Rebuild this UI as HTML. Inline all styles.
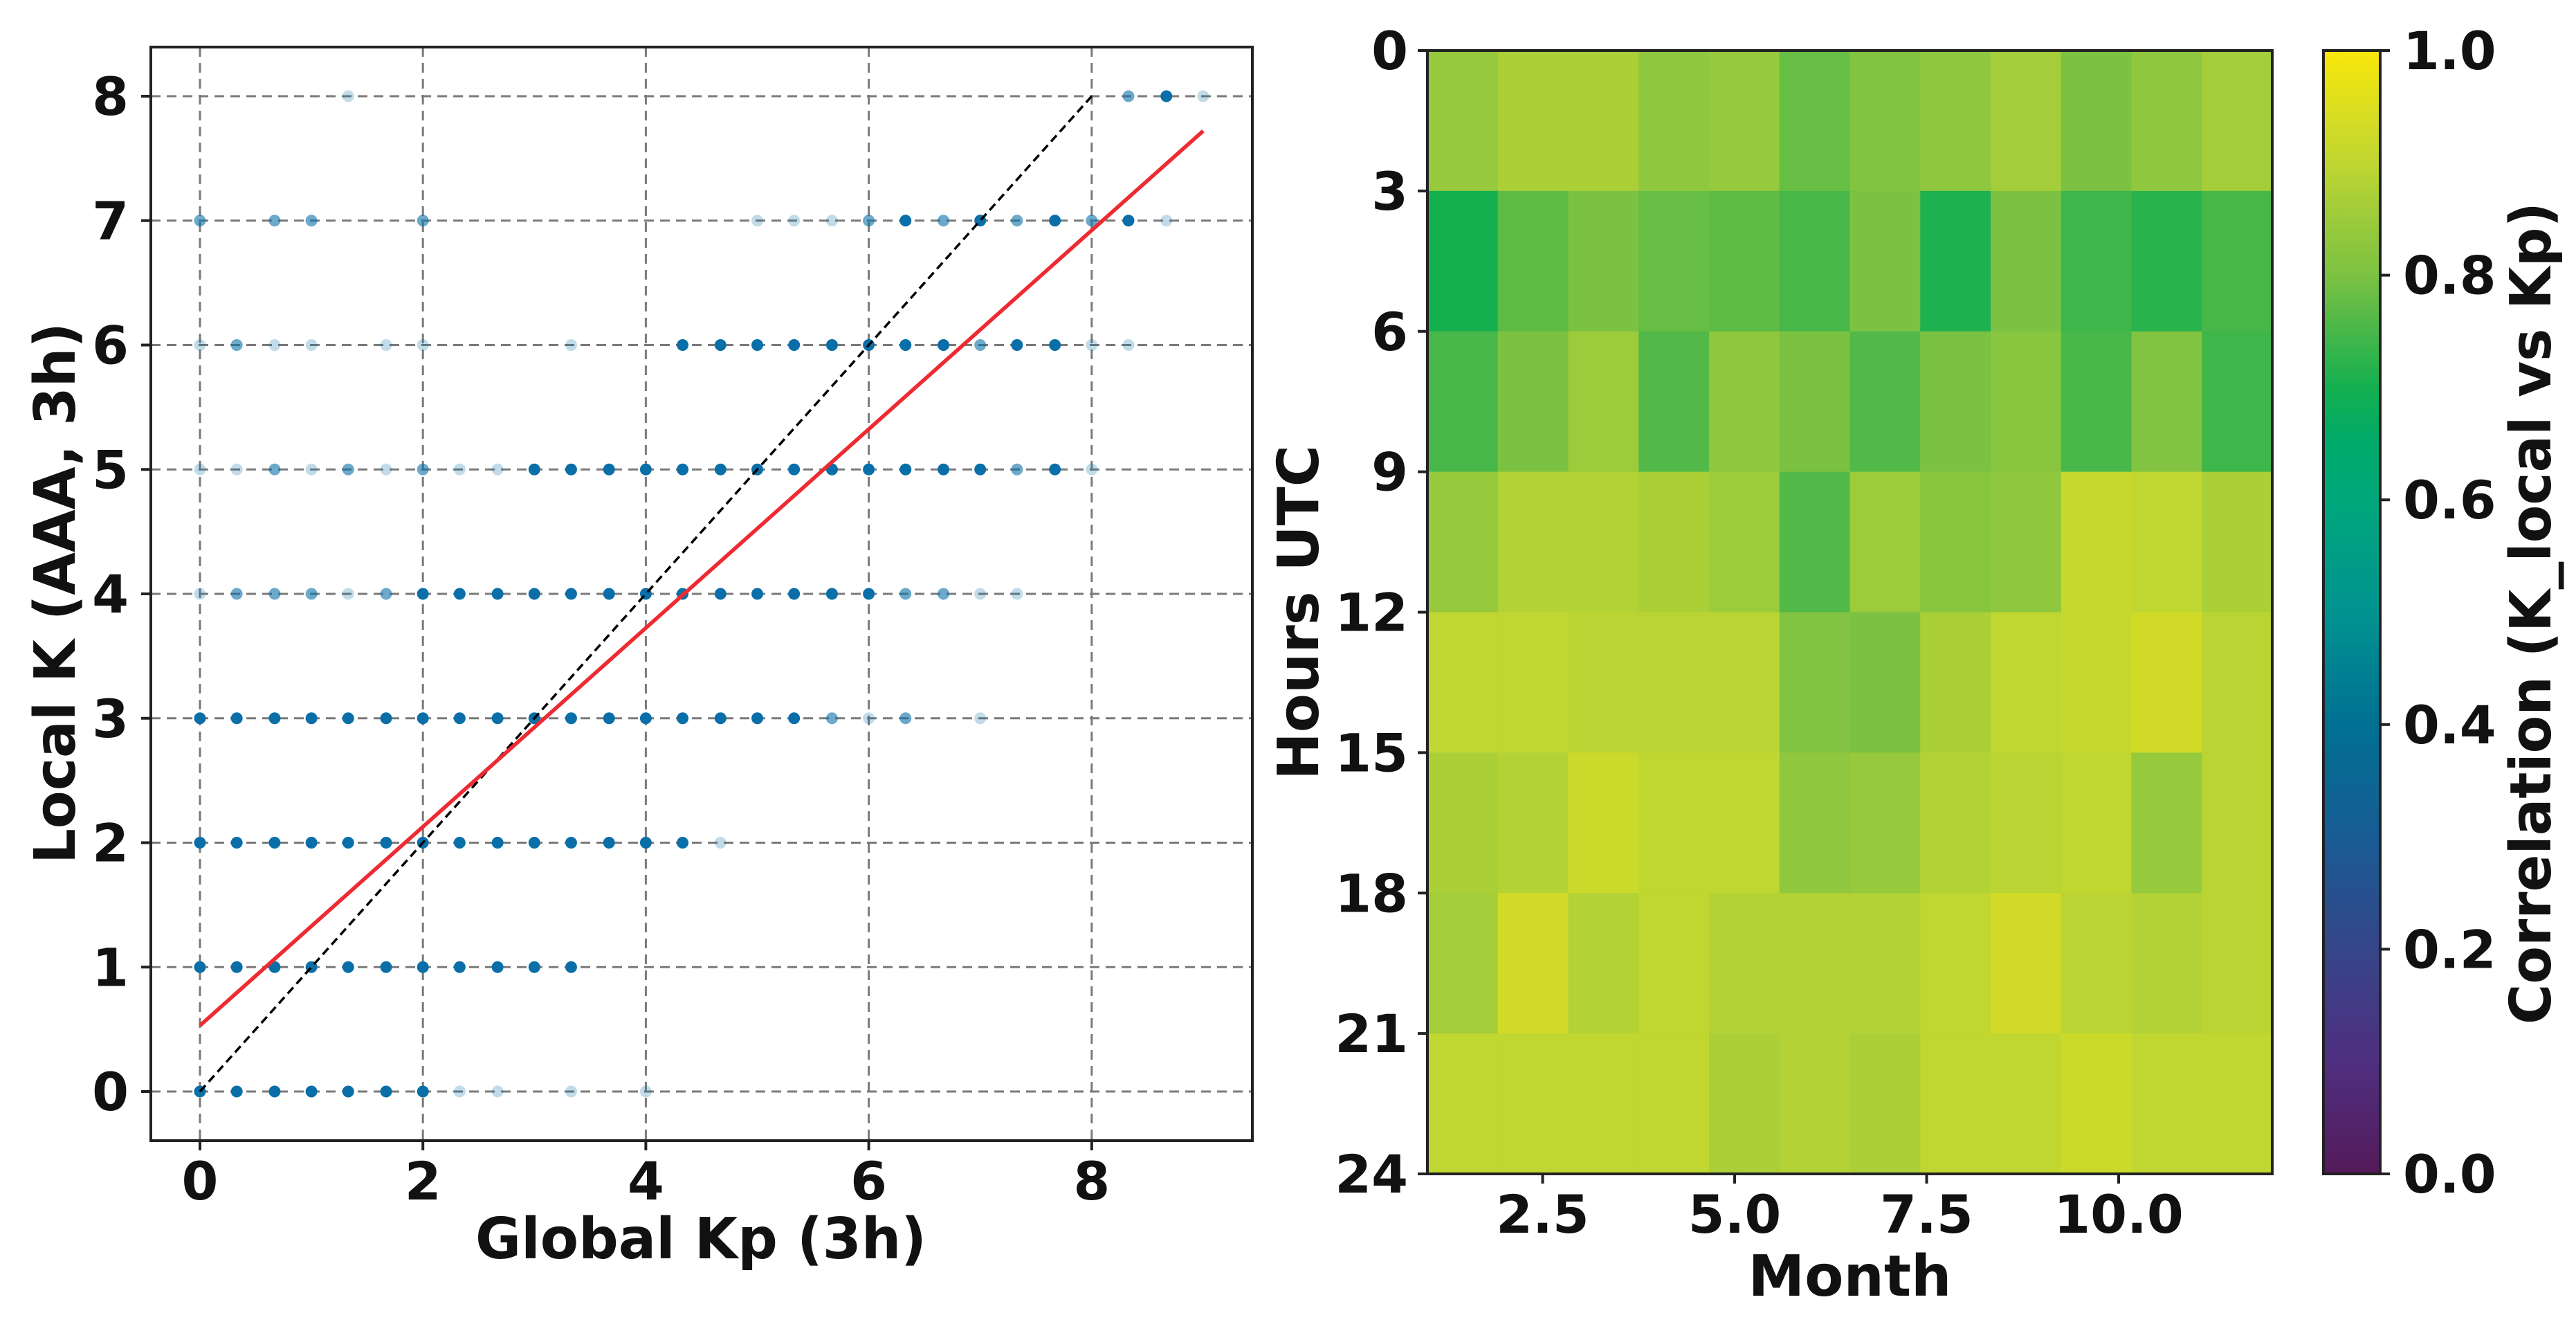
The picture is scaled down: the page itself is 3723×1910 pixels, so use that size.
<!DOCTYPE html>
<html><head><meta charset="utf-8"><style>
body{margin:0;background:#fff;}
svg{display:block;font-family:"DejaVu Sans","Liberation Sans",sans-serif;font-weight:bold;}
</style></head><body>
<svg id="fig" width="3723" height="1910" viewBox="0 0 3723 1910" xmlns="http://www.w3.org/2000/svg">
<g id="left"></g>
<g id="right"></g>
</svg>
<script>
// ---- scatter data ----
const kpValues = [0,0.33,0.67,1,1.33,1.67,2,2.33,2.67,3,3.33,3.67,4,4.33,4.67,5,5.33,5.67,6,6.33,6.67,7,7.33,7.67,8,8.33,8.67,9];
// per point: [Kp, localK, density (1 dark, 2 mid, 3 light)]
const scatterPoints = [
[1.33,8,3],[8.33,8,2],[8.67,8,1],[9,8,3],
[0,7,2],[0.67,7,2],[1,7,2],[2,7,2],[5,7,3],[5.33,7,3],[5.67,7,3],[6,7,2],[6.33,7,1],[6.67,7,2],[7,7,1],[7.33,7,2],[7.67,7,1],[8,7,2],[8.33,7,1],[8.67,7,3],
[0,6,3],[0.33,6,2],[0.67,6,3],[1,6,3],[1.67,6,3],[2,6,3],[3.33,6,3],[4.33,6,1],[4.67,6,1],[5,6,1],[5.33,6,1],[5.67,6,1],[6,6,1],[6.33,6,1],[6.67,6,1],[7,6,2],[7.33,6,1],[7.67,6,1],[8,6,3],[8.33,6,3],
[0,5,3],[0.33,5,3],[0.67,5,2],[1,5,3],[1.33,5,2],[1.67,5,3],[2,5,2],[2.33,5,3],[2.67,5,3],[3,5,1],[3.33,5,1],[3.67,5,1],[4,5,1],[4.33,5,1],[4.67,5,1],[5,5,1],[5.33,5,1],[5.67,5,1],[6,5,1],[6.33,5,1],[6.67,5,1],[7,5,1],[7.33,5,2],[7.67,5,1],[8,5,3],
[0,4,3],[0.33,4,2],[0.67,4,2],[1,4,2],[1.33,4,3],[1.67,4,2],[2,4,1],[2.33,4,1],[2.67,4,1],[3,4,1],[3.33,4,1],[3.67,4,1],[4,4,1],[4.33,4,1],[4.67,4,1],[5,4,1],[5.33,4,1],[5.67,4,1],[6,4,1],[6.33,4,2],[6.67,4,2],[7,4,3],[7.33,4,3],
[0,3,1],[0.33,3,1],[0.67,3,1],[1,3,1],[1.33,3,1],[1.67,3,1],[2,3,1],[2.33,3,1],[2.67,3,1],[3,3,1],[3.33,3,1],[3.67,3,1],[4,3,1],[4.33,3,1],[4.67,3,1],[5,3,1],[5.33,3,1],[5.67,3,2],[6,3,3],[6.33,3,2],[7,3,3],
[0,2,1],[0.33,2,1],[0.67,2,1],[1,2,1],[1.33,2,1],[1.67,2,1],[2,2,1],[2.33,2,1],[2.67,2,1],[3,2,1],[3.33,2,1],[3.67,2,1],[4,2,1],[4.33,2,1],[4.67,2,3],
[0,1,1],[0.33,1,1],[0.67,1,1],[1,1,1],[1.33,1,1],[1.67,1,1],[2,1,1],[2.33,1,1],[2.67,1,1],[3,1,1],[3.33,1,1],
[0,0,1],[0.33,0,1],[0.67,0,1],[1,0,1],[1.33,0,1],[1.67,0,1],[2,0,1],[2.33,0,3],[2.67,0,3],[3.33,0,3],[4,0,3]
];
const xTicksLeft = [0,2,4,6,8];
const yTicksLeft = [0,1,2,3,4,5,6,7,8];
const fitIntercept = 0.53;
const fitSlope = 0.799;
const fitRange = [0,9];
const identityRange = [0,8];

// ---- heatmap data ----
const monthsExtent = [1,12];
const hourBins = [0,3,6,9,12,15,18,21,24];
const corrValues = [
[0.84,0.87,0.87,0.83,0.84,0.78,0.81,0.83,0.86,0.80,0.83,0.86],
[0.70,0.77,0.80,0.78,0.77,0.75,0.80,0.71,0.80,0.74,0.72,0.75],
[0.75,0.80,0.85,0.76,0.83,0.80,0.76,0.80,0.82,0.75,0.81,0.74],
[0.84,0.88,0.88,0.87,0.85,0.76,0.85,0.82,0.83,0.91,0.90,0.87],
[0.90,0.90,0.89,0.89,0.89,0.81,0.80,0.87,0.90,0.91,0.93,0.89],
[0.87,0.88,0.92,0.90,0.90,0.83,0.84,0.88,0.89,0.90,0.84,0.89],
[0.86,0.93,0.88,0.90,0.88,0.88,0.88,0.90,0.93,0.89,0.88,0.89],
[0.90,0.90,0.90,0.90,0.87,0.88,0.87,0.90,0.90,0.92,0.90,0.90]
];
const monthTicks = [2.5,5.0,7.5,10.0];
const cbarTicks = [0.0,0.2,0.4,0.6,0.8,1.0];

const NS="http://www.w3.org/2000/svg";
function mk(tag,attrs,parent){const e=document.createElementNS(NS,tag);for(const k in attrs)e.setAttribute(k,attrs[k]);parent.appendChild(e);return e;}

// ---------- LEFT ----------
const L=document.getElementById('left');
const lx0=218,lx1=1810,ly0=68,ly1=1648;
const sx=v=>289+v*161.1, sy=v=>1577-v*179.75;
xTicksLeft.forEach(v=>{
 const g=mk('line',{x1:sx(v),x2:sx(v),y1:ly0,y2:ly1,stroke:'#7a7a7a','stroke-width':3,'stroke-dasharray':'14 9'},L);
 
 
 const t=mk('line',{x1:sx(v),x2:sx(v),y1:ly1,y2:ly1+14,stroke:'#222','stroke-width':4},L);
 
 
 const lb=mk('text',{x:sx(v),y:1733,'font-size':76,'text-anchor':'middle',fill:'#111'},L);lb.textContent=v;
 
 
});
yTicksLeft.forEach(v=>{
 const g=mk('line',{x1:lx0,x2:lx1,y1:sy(v),y2:sy(v),stroke:'#7a7a7a','stroke-width':3,'stroke-dasharray':'14 9'},L);
 
 
 const t=mk('line',{x1:lx0-14,x2:lx0,y1:sy(v),y2:sy(v),stroke:'#222','stroke-width':4},L);
 
 
 const lb=mk('text',{x:186,y:sy(v)+27,'font-size':76,'text-anchor':'end',fill:'#111'},L);lb.textContent=v;
 
 
});
const alphaMap={1:1,2:0.6,3:0.25};
scatterPoints.forEach(p=>{
 const c=mk('circle',{cx:sx(p[0]),cy:sy(p[1]),r:8.5,fill:'#0a6fa8','fill-opacity':alphaMap[p[2]]},L);
 
 
});
const idl=mk('line',{x1:sx(identityRange[0]),y1:sy(identityRange[0]),x2:sx(identityRange[1]),y2:sy(identityRange[1]),stroke:'#000','stroke-width':3.5,'stroke-dasharray':'12 7'},L);


const fl=mk('line',{x1:sx(fitRange[0]),y1:sy(fitIntercept+fitSlope*fitRange[0]),x2:sx(fitRange[1]),y2:sy(fitIntercept+fitSlope*fitRange[1]),stroke:'#ee2a32','stroke-width':5.5},L);


const lf=mk('rect',{x:lx0,y:ly0,width:lx1-lx0,height:ly1-ly0,fill:'none',stroke:'#222','stroke-width':4},L);


const xl=mk('text',{x:1013,y:1818,'font-size':82,'text-anchor':'middle',fill:'#111',textLength:652,lengthAdjust:'spacingAndGlyphs'},L);
xl.textContent='Global Kp (3h)';


const yl=mk('text',{x:0,y:0,'font-size':82,'text-anchor':'middle',fill:'#111',textLength:782,lengthAdjust:'spacingAndGlyphs',transform:'translate(108,857) rotate(-90)'},L);
yl.textContent='Local K (AAA, 3h)';



// ---------- RIGHT ----------
const R=document.getElementById('right');
const hx0=2063,hx1=3284,hy0=73,hy1=1696;
const mx=v=>hx0+(v-monthsExtent[0])/(monthsExtent[1]-monthsExtent[0])*(hx1-hx0);
const hy=v=>hy0+v/24*(hy1-hy0);
const stops=[[0,'#541a5a'],[0.1,'#4f2f80'],[0.2,'#364589'],[0.3,'#185c93'],[0.4,'#007093'],[0.5,'#009390'],[0.6,'#00a77a'],[0.65,'#00aa6a'],[0.7,'#14b050'],[0.75,'#48b749'],[0.8,'#7cc242'],[0.85,'#9ccb3b'],[0.9,'#c0d631'],[0.95,'#dcdf20'],[1,'#f9e70a']];
function hex(h){return [1,3,5].map(i=>parseInt(h.substr(i,2),16));}
function cmap(v){v=Math.max(0,Math.min(1,v));for(let i=1;i<stops.length;i++){if(v<=stops[i][0]){const a=stops[i-1],b=stops[i];const t=(v-a[0])/(b[0]-a[0]);const ca=hex(a[1]),cb=hex(b[1]);return 'rgb('+ca.map((c,j)=>Math.round(c+(cb[j]-c)*t)).join(',')+')';}}return stops[stops.length-1][1];}
const nCols=corrValues[0].length;
const cw=(hx1-hx0)/nCols;
corrValues.forEach((row,r)=>{row.forEach((v,c)=>{
 const rc=mk('rect',{x:hx0+c*cw,y:hy(hourBins[r]),width:cw+0.6,height:hy(hourBins[r+1])-hy(hourBins[r])+0.6,fill:cmap(v)},R);
 
 
});});
const hf=mk('rect',{x:hx0,y:hy0,width:hx1-hx0,height:hy1-hy0,fill:'none',stroke:'#222','stroke-width':4},R);


hourBins.forEach(v=>{
 const t=mk('line',{x1:hx0-14,x2:hx0,y1:hy(v),y2:hy(v),stroke:'#222','stroke-width':4},R);
 
 
 const lb=mk('text',{x:2035,y:hy(v)+27,'font-size':76,'text-anchor':'end',fill:'#111'},R);lb.textContent=v;
 
 
});
monthTicks.forEach(v=>{
 const t=mk('line',{x1:mx(v),x2:mx(v),y1:hy1,y2:hy1+14,stroke:'#222','stroke-width':4},R);
 
 
 const lb=mk('text',{x:mx(v),y:1781,'font-size':76,'text-anchor':'middle',fill:'#111'},R);lb.textContent=v.toFixed(1);
 
 
});
const ml=mk('text',{x:(hx0+hx1)/2,y:1872,'font-size':82,'text-anchor':'middle',fill:'#111'},R);
ml.textContent='Month';


const hl=mk('text',{x:0,y:0,'font-size':82,'text-anchor':'middle',fill:'#111',transform:'translate(1905,885) rotate(-90)'},R);
hl.textContent='Hours UTC';


// colorbar
const cx0=3358,cx1=3440;
const defs=mk('defs',{},R);
const grad=mk('linearGradient',{id:'cg',x1:0,y1:1,x2:0,y2:0},defs);
stops.forEach(s=>mk('stop',{offset:s[0],'stop-color':s[1]},grad));
const cb=mk('rect',{x:cx0,y:hy0,width:cx1-cx0,height:hy1-hy0,fill:'url(#cg)',stroke:'#222','stroke-width':4},R);


const cy=v=>hy1-v*(hy1-hy0);
cbarTicks.forEach(v=>{
 const t=mk('line',{x1:cx1,x2:cx1+14,y1:cy(v),y2:cy(v),stroke:'#222','stroke-width':4},R);
 
 
 const lb=mk('text',{x:3473,y:cy(v)+27,'font-size':76,'text-anchor':'start',fill:'#111'},R);lb.textContent=v.toFixed(1);
 
 
});
const cl=mk('text',{x:0,y:0,'font-size':82,'text-anchor':'middle',fill:'#111',textLength:1188,lengthAdjust:'spacingAndGlyphs',transform:'translate(3686,886) rotate(-90)'},R);
cl.textContent='Correlation (K_local vs Kp)';


</script>
</body></html>
